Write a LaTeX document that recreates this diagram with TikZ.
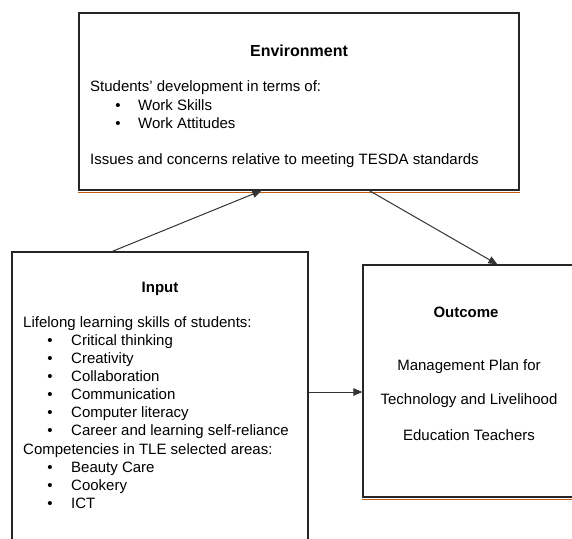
\documentclass[tikz,border=0pt]{standalone}
\usepackage{fontspec}
\setmainfont{Liberation Sans}
\usetikzlibrary{arrows.meta}
\definecolor{edgeorange}{RGB}{197,90,17}
\begin{document}
\begin{tikzpicture}[x=1pt,y=-1pt,
  box/.style={draw=black!85,line width=1.3pt,rectangle,inner sep=0pt},
  underline/.style={draw=edgeorange,line width=1.2pt},
  arr/.style={draw=black!80,line width=1pt,-{Triangle[length=9pt,width=7.5pt]}},
  body/.style={inner sep=0pt,anchor=base west,font=\fontsize{15}{18}\selectfont},
  bodyc/.style={inner sep=0pt,anchor=base,font=\fontsize{15}{18}\selectfont},
  head/.style={inner sep=0pt,anchor=base,font=\fontsize{15}{18}\selectfont\bfseries},
  bul/.style={inner sep=0pt,anchor=base,font=\fontsize{15}{18}\selectfont}]
\useasboundingbox (0,0) rectangle (572,538);

% three boxes
\node[box,minimum width=440pt,minimum height=177pt] (env) at (299,101.5) {};
\node[box,minimum width=296pt,minimum height=320pt] (input) at (160,412) {};
\node[box,minimum width=213pt,minimum height=232pt] (outcome) at (469.5,381) {};

% orange rule under the upper and right boxes
\draw[underline] ([yshift=-1.5pt]env.south west) -- ([yshift=-1.5pt]env.south east);
\draw[underline] ([yshift=-1.5pt]outcome.south west) -- ([yshift=-1.5pt]outcome.south east);

% connectors
\draw[arr] ([xshift=101pt]input.north west) -- ([xshift=183pt]env.south west);
\draw[arr] ([xshift=291pt]env.south west) -- ([xshift=135pt]outcome.north west);
\draw[arr] ([yshift=20pt]input.east) -- ([yshift=-11pt]outcome.west);

% Environment
\node[head,font=\fontsize{16}{19}\selectfont\bfseries] (envT) at (299,56) {Environment};
\node[body] (envA) at (90,91) {Students' development in terms of:};
\node[bul] (envB1) at (118,110) {•};
\node[body] (envI1) at (138,110) {Work Skills};
\node[bul] (envB2) at (118,128) {•};
\node[body] (envI2) at (138,128) {Work Attitudes};
\node[body] (envC) at (90,164) {Issues and concerns relative to meeting TESDA standards};

% Input
\node[head] (inT) at (160,292) {Input};
\node[body] (inA) at (23,327) {Lifelong learning skills of students:};
\foreach \t [count=\i] in {Critical thinking,Creativity,Collaboration,Communication,Computer literacy,Career and learning self-reliance}{
  \node[bul] (inB\i) at (50,327+18.1*\i) {•};
  \node[body] (inI\i) at (71,327+18.1*\i) {\t};
}
\node[body] (inC) at (23,454) {Competencies in TLE selected areas:};
\foreach \t [count=\i] in {Beauty Care,Cookery,ICT}{
  \node[bul] (inD\i) at (50,454+18.1*\i) {•};
  \node[body] (inJ\i) at (71,454+18.1*\i) {\t};
}

% Outcome
\node[head] (outT) at (466,317) {Outcome};
\node[bodyc] (outA) at (469,370) {Management Plan for};
\node[bodyc] (outB) at (469,404) {Technology and Livelihood};
\node[bodyc] (outC) at (469,440) {Education Teachers};
\end{tikzpicture}
\end{document}
